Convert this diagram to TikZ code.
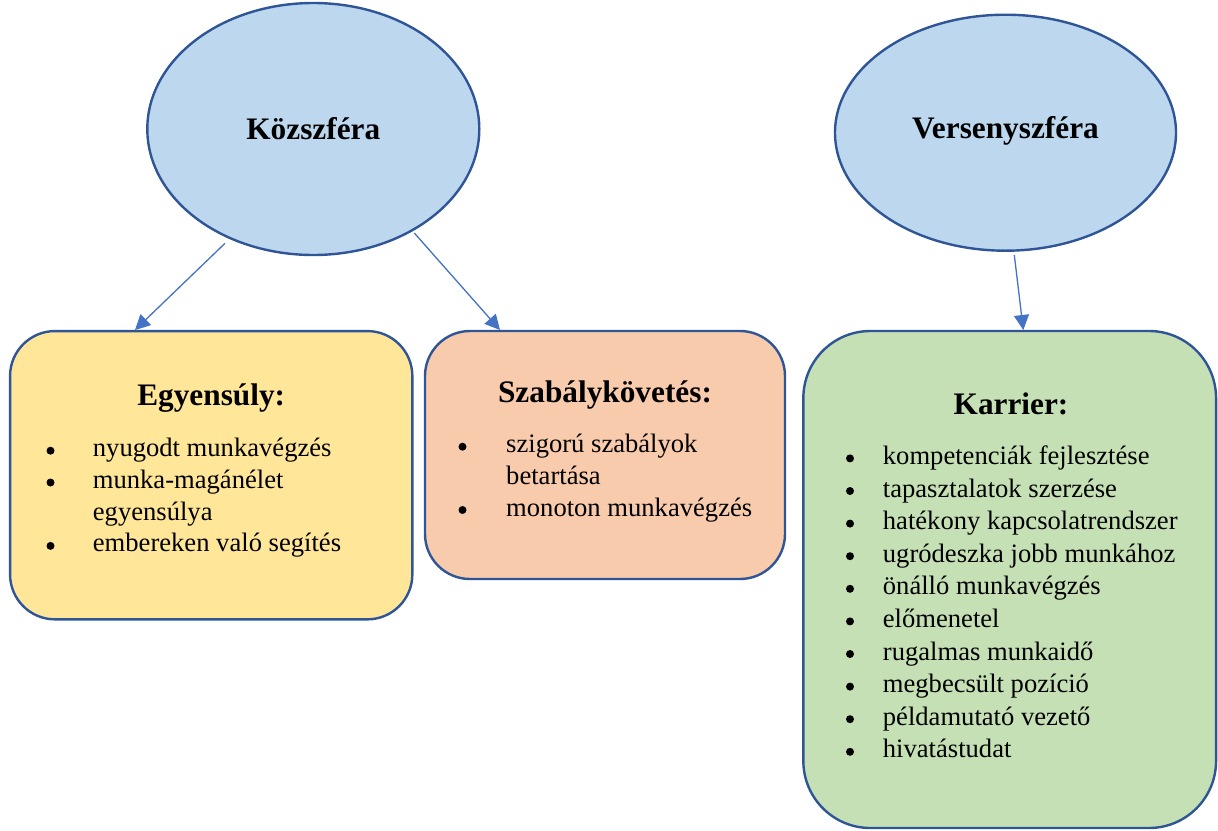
\documentclass[tikz,border=0pt]{standalone}
\usepackage{fontspec}
\setmainfont{Liberation Serif}
\usetikzlibrary{shapes.geometric,arrows.meta}
\definecolor{ellfill}{HTML}{BDD7EE}
\definecolor{edge}{HTML}{2F5597}
\definecolor{yel}{HTML}{FFE699}
\definecolor{ora}{HTML}{F8CBAD}
\definecolor{gre}{HTML}{C5E0B4}
\definecolor{arr}{HTML}{4472C4}
\tikzset{
  ell/.style={ellipse, draw=edge, fill=ellfill, line width=2.4pt, inner sep=0pt},
  box/.style={rectangle, draw=edge, line width=2.4pt, inner sep=0pt},
  ttl/.style={anchor=base, inner sep=0pt, font=\fontsize{31.3}{36}\selectfont\bfseries},
  itm/.style={anchor=base west, inner sep=0pt, font=\fontsize{26.6}{32}\selectfont},
  dot/.style={circle, fill=black, minimum size=8pt, inner sep=0pt},
  conn/.style={draw=arr, line width=1.3pt, -{Triangle[length=15pt,width=15pt]}}
}
\begin{document}
\begin{tikzpicture}[x=1pt,y=-1pt]
\useasboundingbox (0,0) rectangle (1218,830);
% ellipses
\node[ell, minimum width=332pt, minimum height=252pt] (kozsz) at (313.3,129) {};
\node[ell, minimum width=341pt, minimum height=236pt] (versz) at (1005.5,132.7) {};
\node[ttl] (kozt) at (313.3,139.3) {Közszféra};
\node[ttl] (vert) at (1005.5,138.3) {Versenyszféra};
% boxes
\node[box, fill=yel, minimum width=402.3pt, minimum height=288.3pt, rounded corners=45pt] (egy) at (211.2,475.2) {};
\node[box, fill=ora, minimum width=360pt, minimum height=248pt, rounded corners=45pt] (szab) at (605,455) {};
\node[box, fill=gre, minimum width=412.7pt, minimum height=497pt, rounded corners=67pt] (kar) at (1009.7,579.5) {};
% connectors
\coordinate (a1s) at (225,243.3);
\coordinate (a1e) at (135,330);
\coordinate (a2s) at (414.3,233);
\coordinate (a2e) at (500,330);
\coordinate (a3s) at (1014.3,255);
\coordinate (a3e) at (1023.3,330);
\draw[conn] (a1s) -- (a1e);
\draw[conn] (a2s) -- (a2e);
\draw[conn] (a3s) -- (a3e);
% Egyensuly
\node[ttl] (egyt) at (211.2,405.7) {Egyensúly:};
\node[dot] (ed1) at (50.5,450.7) {};
\node[itm] (e1) at (92.7,456.7) {nyugodt munkavégzés};
\node[dot] (ed2) at (50.5,482.5) {};
\node[itm] (e2) at (92.7,488.5) {munka-magánélet};
\node[itm] (e2b) at (92.7,520.2) {egyensúlya};
\node[dot] (ed3) at (50.5,545.9) {};
\node[itm] (e3) at (92.7,551.9) {embereken való segítés};
% Szabalykovetes
\node[ttl] (szabt) at (605,402.7) {Szabálykövetés:};
\node[dot] (sd1) at (462.5,446.7) {};
\node[itm] (s1) at (506,452.7) {szigorú szabályok};
\node[itm] (s1b) at (506,484.4) {betartása};
\node[dot] (sd2) at (462.5,510) {};
\node[itm] (s2) at (506,516) {monoton munkavégzés};
% Karrier
\node[ttl] (kart) at (1011,414.3) {Karrier:};
\foreach \t [count=\i from 0] in {kompetenciák fejlesztése,tapasztalatok szerzése,hatékony kapcsolatrendszer,ugródeszka jobb munkához,önálló munkavégzés,előmenetel,rugalmas munkaidő,megbecsült pozíció,példamutató vezető,hivatástudat}{
  \node[dot] (kd\i) at (850,458.4+32.6*\i) {};
  \node[itm] (k\i) at (882.7,464.4+32.6*\i) {\t};
}
\end{tikzpicture}
\end{document}
